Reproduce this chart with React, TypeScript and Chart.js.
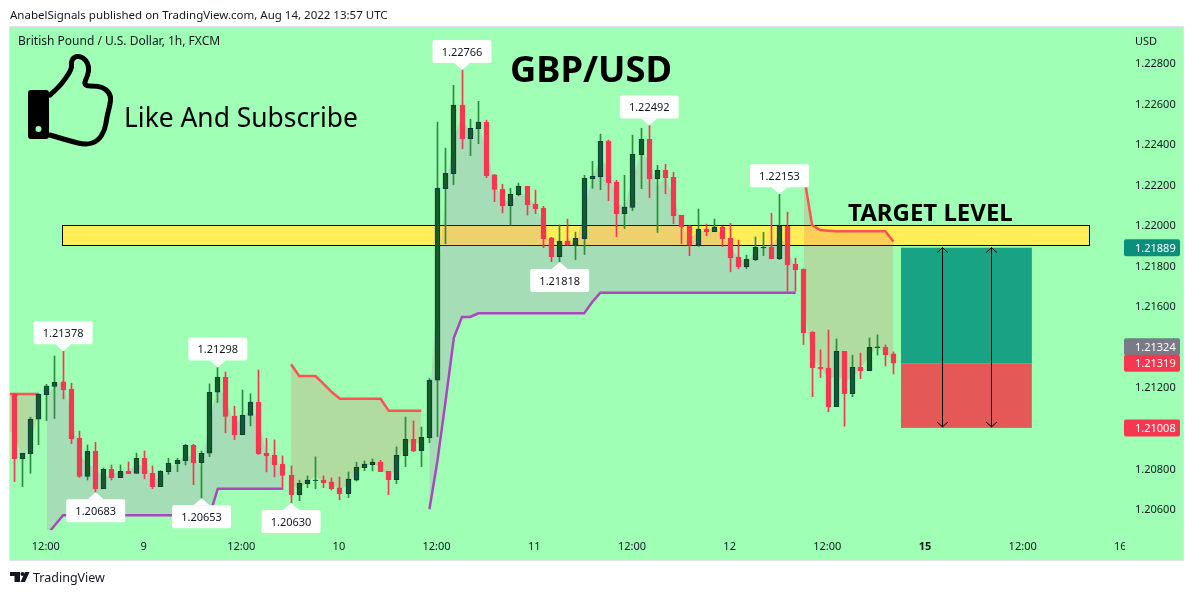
import React, { useEffect, useRef } from "react";
import { Chart, registerables } from "chart.js";

Chart.register(...registerables);

// ---- Hourly GBP/USD candles, in 1e-5 price units ----
const opens5 = [121167,120848,120873,121043,121164,121204,121227,121191,120949,120760,120885,120700,120796,120755,120786,120776,120850,120776,120710,120784,120823,120838,120914,120828,120875,121176,121250,121058,120967,121061,121127,120875,120865,120822,120767,120671,120725,120740,120742,120733,120704,120676,120742,120804,120819,120831,120786,120745,120863,120944,120888,120952,121235,122180,122254,122592,122427,122476,122508,122248,122177,122096,122150,122192,122103,122083,121937,121845,121921,121901,121933,122229,122239,122415,122212,122057,122087,122348,122424,122229,122271,122236,122049,121996,121901,121980,121968,121990,121935,121842,121795,121830,121888,121891,121835,121996,121807,121784,121473,121299,121295,121105,121378,121169,121299,121282,121396,121398,121365];
const highs5 = [121167,120875,121053,121168,121215,121355,121378,121220,120984,120916,120929,120802,120817,120817,120832,120875,120886,120812,120790,120850,120850,120919,120919,120886,121217,121298,121276,121107,121187,121168,121286,120949,120941,120862,120812,120742,120763,120857,120763,120753,120758,120783,120831,120837,120847,120840,120786,120906,121054,121034,121004,121245,122509,122380,122690,122766,122522,122611,122518,122251,122202,122182,122207,122192,122173,122093,121940,122001,122030,121966,122246,122315,122449,122420,122222,122246,122444,122478,122492,122295,122300,122261,122049,122000,122080,122005,122030,121995,122009,121926,121852,121942,121965,122059,122153,122064,121837,121784,121475,121385,121483,121439,121378,121359,121369,121444,121459,121409,121375];
const lows5 = [120735,120710,120776,120917,121036,121046,121143,120922,120755,120743,120683,120700,120743,120755,120774,120776,120749,120700,120710,120771,120784,120817,120720,120653,120858,121125,120976,120942,120967,121010,120869,120783,120758,120695,120630,120641,120705,120700,120705,120694,120646,120656,120738,120789,120788,120784,120671,120725,120809,120883,120809,120927,120957,121909,122200,122377,122343,122402,122234,122116,122061,122000,122145,122050,122057,121889,121820,121818,121901,121830,121855,122182,122175,122121,121943,121983,122072,122180,122135,121964,122155,122007,121909,121850,121894,121948,121968,121894,121770,121785,121785,121825,121850,121835,121830,121675,121675,121411,121154,121248,121080,121105,121008,121154,121243,121282,121359,121305,121266];
const closes5 = [120848,120875,121043,121166,121206,121225,121189,120947,120760,120885,120700,120796,120755,120786,120774,120850,120774,120710,120786,120825,120840,120914,120828,120875,121176,121250,121056,120967,121062,121127,120873,120862,120819,120765,120671,120727,120742,120743,120730,120699,120676,120747,120806,120821,120831,120784,120745,120865,120944,120885,120954,121235,122182,122256,122592,122427,122478,122508,122244,122176,122096,122152,122192,122101,122081,121933,121845,121921,121901,121935,122231,122241,122414,122210,122057,122089,122350,122424,122229,122271,122234,122047,121993,121901,121980,121968,121990,121933,121840,121795,121832,121891,121891,121835,121995,121805,121781,121468,121297,121291,121103,121378,121169,121299,121282,121398,121400,121361,121319];

// ---- Indicator line segments (first bar index, then values in 1e-5 units) ----
const redLine1Start = -1;
const redLine1 = [121167,121167,121167,121167,121167];
const purpleLine1Start = 4;
const purpleLine1 = [120472,120521,120569,120569,120569,120569,120569,120569,120569,120569,120569,120569,120569,120569,120569,120569,120569,120569,120569,120569,120569,120700,120700,120700,120700,120700,120700,120700,120700,120700];
const redLine2Start = 34;
const redLine2 = [121314,121256,121256,121256,121217,121177,121144,121144,121144,121144,121144,121144,121084,121084,121084,121084,121084];
const purpleLine2Start = 51;
const purpleLine2 = [120599,120842,121138,121444,121547,121547,121565,121565,121565,121565,121565,121565,121565,121565,121565,121565,121565,121565,121565,121565,121621,121667,121667,121667,121667,121667,121667,121667,121667,121667,121667,121667,121667,121667,121667,121667,121667,121667,121667,121667,121667,121667,121667,121667,121667,121667];
const redLine3Start = 97;
const redLine3 = [122248,122001,121976,121973,121970,121970,121970,121970,121970,121970,121970,121919];

// ---- Axis ----
const priceTicks = [1.206,1.208,1.21,1.212,1.214,1.216,1.218,1.22,1.222,1.224,1.226,1.228];
const timeTickBars = [4,16,28,40,52,64,76,88,100,112,124,136];
const timeTickLabels = ["12:00","9","12:00","10","12:00","11","12:00","12","12:00","15","12:00","16"];

// ---- High / low callouts ----
const calloutBars = [6,25,10,23,34,55,67,78,94];
const calloutPrices = [1.21378,1.21298,1.20683,1.20653,1.2063,1.22766,1.21818,1.22492,1.22153];
const calloutUp = [true,true,false,false,false,true,false,true,true];

// ---- Drawn zones ----
const targetZone = { from: 5.86, to: 132, top: 1.22001, bottom: 1.21902 };
const positionZone = { from: 108.93, to: 125, top: 1.21889, mid: 1.21319, bottom: 1.21 };
const arrowBars = [113.97, 120];

// ---- Right hand price tags ----
const tagTexts = ["1.21889","1.21324","1.21319","1.21008"];
const tagPrices = [1.21889,1.214,1.21319,1.21];
const tagColors = ["#0B8F7C","#787B86","#F7374F","#F7374F"];

const FONT = '"Noto Sans", "Open Sans", sans-serif';
const PANEL = "#9EFFB5";

const toPrice = (v: number) => v / 1e5;
const bars = opens5.map((_, i) => i);
const isUp = bars.map((i) => closes5[i] >= opens5[i]);
const ohlc4 = (i: number) => {
  const k = Math.max(i, 0);
  return (opens5[k] + highs5[k] + lows5[k] + closes5[k]) / 4;
};

function segment(start: number, values: number[], color: string, shade: string, indexBase: number) {
  const line = values.map((v, k) => ({ x: start + k, y: toPrice(v) }));
  const mid = values.map((_, k) => ({ x: start + k, y: toPrice(ohlc4(start + k)) }));
  return [
    { type: "line", data: mid, borderWidth: 0, pointRadius: 0, fill: false, order: 10 },
    {
      type: "line", data: line, borderColor: color, borderWidth: 2.5, pointRadius: 0, tension: 0,
      backgroundColor: shade, fill: { target: indexBase }, order: 9,
    },
  ];
}

const overlay = {
  id: "overlay",
  beforeDraw(chart: any) {
    const c = chart.ctx;
    c.save();
    c.fillStyle = "#fff";
    c.fillRect(0, 0, chart.width, chart.height);
    c.fillStyle = PANEL;
    c.fillRect(10, 27, 1173, 533);
    c.strokeStyle = "#E0E3EB";
    c.lineWidth = 1;
    c.strokeRect(9.5, 26.5, 1174, 534);
    c.restore();
    // keep the candles on whole pixels so that their wicks stay crisp
    chart.data.datasets.forEach((d: any, n: number) => {
      if (d.type === "line") return;
      chart.getDatasetMeta(n).data.forEach((el: any) => {
        el.x = Math.round(el.x - 0.5) + 0.5;
      });
    });
  },
  beforeDatasetsDraw(chart: any) {
    const c = chart.ctx;
    const x = chart.scales.x;
    const y = chart.scales.y;
    c.save();
    const zx = x.getPixelForValue(targetZone.from);
    const zw = x.getPixelForValue(targetZone.to) - zx;
    const zy = y.getPixelForValue(targetZone.top);
    const zh = y.getPixelForValue(targetZone.bottom) - zy;
    c.fillStyle = "#FFEE58";
    c.fillRect(zx, zy, zw, zh);
    c.strokeStyle = "#000";
    c.lineWidth = 1;
    c.strokeRect(Math.round(zx) + 0.5, Math.round(zy) + 0.5, Math.round(zw), Math.round(zh));
    const px = x.getPixelForValue(positionZone.from);
    const pw = x.getPixelForValue(positionZone.to) - px;
    const top = y.getPixelForValue(positionZone.top);
    const mid = y.getPixelForValue(positionZone.mid);
    const bot = y.getPixelForValue(positionZone.bottom);
    c.fillStyle = "#18A384";
    c.fillRect(px, top, pw, mid - top);
    c.fillStyle = "#E55858";
    c.fillRect(px, mid, pw, bot - mid);
    c.restore();
  },
  afterDatasetsDraw(chart: any) {
    const c = chart.ctx;
    const x = chart.scales.x;
    const y = chart.scales.y;
    c.save();

    // arrows
    c.strokeStyle = "#000";
    c.lineWidth = 1;
    arrowBars.forEach((b) => {
      const ax = Math.round(x.getPixelForValue(b)) + 0.5;
      const t = y.getPixelForValue(positionZone.top);
      const e = y.getPixelForValue(positionZone.bottom) - 1;
      c.beginPath();
      c.moveTo(ax, t);
      c.lineTo(ax, e);
      c.moveTo(ax - 5.5, t + 5);
      c.lineTo(ax, t);
      c.lineTo(ax + 5.5, t + 5);
      c.moveTo(ax - 5.5, e - 5);
      c.lineTo(ax, e);
      c.lineTo(ax + 5.5, e - 5);
      c.stroke();
    });

    // callouts
    c.font = `11px ${FONT}`;
    c.textAlign = "center";
    c.textBaseline = "middle";
    calloutBars.forEach((b, k) => {
      const tx = x.getPixelForValue(b);
      const ty = y.getPixelForValue(calloutPrices[k]);
      const dir = calloutUp[k] ? -1 : 1;
      const edge = ty + dir * 7;
      const far = edge + dir * 23;
      c.fillStyle = "#fff";
      c.beginPath();
      c.moveTo(tx, ty);
      c.lineTo(tx - 8, edge);
      c.lineTo(tx + 8, edge);
      c.closePath();
      c.fill();
      c.beginPath();
      c.roundRect(tx - 29.5, Math.min(edge, far), 59, 23, 2);
      c.fill();
      c.fillStyle = "#131722";
      c.fillText(calloutPrices[k].toFixed(5), tx, (edge + far) / 2 + 1);
    });

    // thumbs-up badge
    const outline = [[50,95],[58,88],[66,78],[72,68],[71,62],[74,57],[80,56],[86,60],[89,67],[88,75],[83,86],[98,86],[106,89],[111,96],[110,105],[107,116],[105,130],[98,141],[86,145],[70,141],[50,135]];
    c.strokeStyle = "#000";
    c.lineWidth = 5;
    c.lineJoin = "round";
    c.lineCap = "round";
    c.beginPath();
    c.moveTo(outline[0][0], outline[0][1]);
    for (let k = 1; k < outline.length - 1; k++) {
      const mx = (outline[k][0] + outline[k + 1][0]) / 2;
      const my = (outline[k][1] + outline[k + 1][1]) / 2;
      c.quadraticCurveTo(outline[k][0], outline[k][1], mx, my);
    }
    c.lineTo(outline[outline.length - 1][0], outline[outline.length - 1][1]);
    c.stroke();
    c.fillStyle = "#000";
    c.beginPath();
    c.roundRect(28, 90, 21, 49, 3);
    c.fill();
    c.fillStyle = PANEL;
    c.beginPath();
    c.arc(38.5, 129, 3, 0, Math.PI * 2);
    c.fill();

    // free text
    c.fillStyle = "#000";
    c.textAlign = "left";
    c.textBaseline = "middle";
    c.font = `400 26.4px ${FONT}`;
    c.fillText("Like And Subscribe", 124, 119);
    c.font = `700 36.3px ${FONT}`;
    c.fillText("GBP/USD", 510, 72);
    c.font = `700 24px ${FONT}`;
    c.fillText("TARGET LEVEL", 848, 214);

    c.fillStyle = "#131722";
    c.font = `11.5px ${FONT}`;
    c.fillText("AnabelSignals published on TradingView.com, Aug 14, 2022 13:57 UTC", 10, 15.5);
    c.font = `12px ${FONT}`;
    c.fillText("British Pound / U.S. Dollar, 1h, FXCM", 18, 42);
    c.font = `11px ${FONT}`;
    c.fillText("USD", 1135, 41.5);
    c.font = `12.5px ${FONT}`;
    c.fillText("TradingView", 33, 578);

    // TradingView mark
    c.fillStyle = "#131722";
    c.beginPath();
    c.moveTo(10, 572);
    c.lineTo(20, 572);
    c.lineTo(20, 582);
    c.lineTo(14.5, 582);
    c.lineTo(14.5, 576);
    c.lineTo(10, 576);
    c.closePath();
    c.moveTo(29.5, 572);
    c.lineTo(25, 582);
    c.lineTo(20.5, 582);
    c.lineTo(25, 572);
    c.closePath();
    c.fill();
    c.beginPath();
    c.arc(22.5, 574, 2, 0, Math.PI * 2);
    c.fill();

    // cut the last time label where the plot ends
    c.fillStyle = PANEL;
    c.fillRect(chart.chartArea.right - 1, 538, 9, 16);

    // price tags
    c.font = `11px ${FONT}`;
    tagTexts.forEach((t, k) => {
      const ty = y.getPixelForValue(tagPrices[k]);
      c.fillStyle = tagColors[k];
      c.beginPath();
      c.roundRect(1124, ty - 8.5, 56, 17, 2);
      c.fill();
      c.fillStyle = "#fff";
      c.fillText(t, 1135, ty + 1);
    });
    c.restore();
  },
};

export default function App() {
  const ref = useRef<HTMLCanvasElement>(null);
  useEffect(() => {
    const wicks = bars.map((i) => ({ x: i, y: [toPrice(lows5[i]), toPrice(highs5[i])] }));
    const bodies = bars.map((i) => ({ x: i, y: [toPrice(opens5[i]), toPrice(closes5[i])] }));
    const lineSets: any[] = [];
    const add = (s: number, v: number[], col: string, shade: string) =>
      lineSets.push(...segment(s, v, col, shade, lineSets.length));
    const redShade = "rgba(255,82,82,0.2)";
    const purpleShade = "rgba(188,107,186,0.23)";
    add(redLine1Start, redLine1, "#FF5252", redShade);
    add(purpleLine1Start, purpleLine1, "#AB47BC", purpleShade);
    add(redLine2Start, redLine2, "#FF5252", redShade);
    add(purpleLine2Start, purpleLine2, "#AB47BC", purpleShade);
    add(redLine3Start, redLine3, "#FF5252", redShade);

    const chart = new Chart(ref.current as HTMLCanvasElement, {
      type: "bar",
      data: {
        datasets: [
          ...lineSets,
          {
            data: wicks,
            barThickness: 1,
            backgroundColor: isUp.map((u) => (u ? "#2E8B3A" : "#F7374F")),
            order: 2,
          },
          {
            data: bodies,
            barThickness: 5,
            backgroundColor: isUp.map((u) => (u ? "#145A2A" : "#F7374F")),
            borderColor: isUp.map((u) => (u ? "#0B3B3F" : "#F7374F")),
            borderWidth: 1,
            borderSkipped: false,
            order: 1,
          },
        ] as any,
      },
      options: {
        responsive: false,
        animation: false,
        devicePixelRatio: 1,
        layout: { padding: { left: 10, top: 27, right: 0, bottom: 0 } },
        plugins: { legend: { display: false }, tooltip: { enabled: false } },
        datasets: { bar: { grouped: false } },
        scales: {
          x: {
            type: "linear",
            offset: false,
            min: -0.528,
            max: 136.57,
            grid: { display: false, drawTicks: false },
            border: { display: false },
            afterBuildTicks: (s: any) => {
              s.ticks = timeTickBars.map((v) => ({ value: v }));
            },
            afterFit: (s: any) => {
              s.height = 65;
            },
            ticks: {
              autoSkip: false,
              maxRotation: 0,
              padding: 10,
              labelOffset: -1,
              color: "#131722",
              font: (ctx: any) => ({
                family: FONT,
                size: 11,
                weight: timeTickBars[ctx.index] === 112 ? "bold" : "normal",
              }),
              callback: (v: any) => timeTickLabels[timeTickBars.indexOf(v)] ?? "",
            },
          },
          y: {
            position: "right",
            min: 1.204963,
            max: 1.229776,
            grid: { display: false, drawTicks: false },
            border: { display: false },
            afterBuildTicks: (s: any) => {
              s.ticks = priceTicks.map((v) => ({ value: v }));
            },
            afterFit: (s: any) => {
              s.width = 68;
            },
            ticks: {
              padding: 9,
              labelOffset: 1,
              color: "#131722",
              font: { family: FONT, size: 11 },
              callback: (v: any) => Number(v).toFixed(5),
            },
          },
        },
      } as any,
      plugins: [overlay],
    });
    return () => chart.destroy();
  }, []);
  return (
    <div style={{ position: "fixed", left: 0, top: 0, width: 1194, height: 595 }}>
      <canvas ref={ref} width={1194} height={595} style={{ display: "block" }} />
    </div>
  );
}
